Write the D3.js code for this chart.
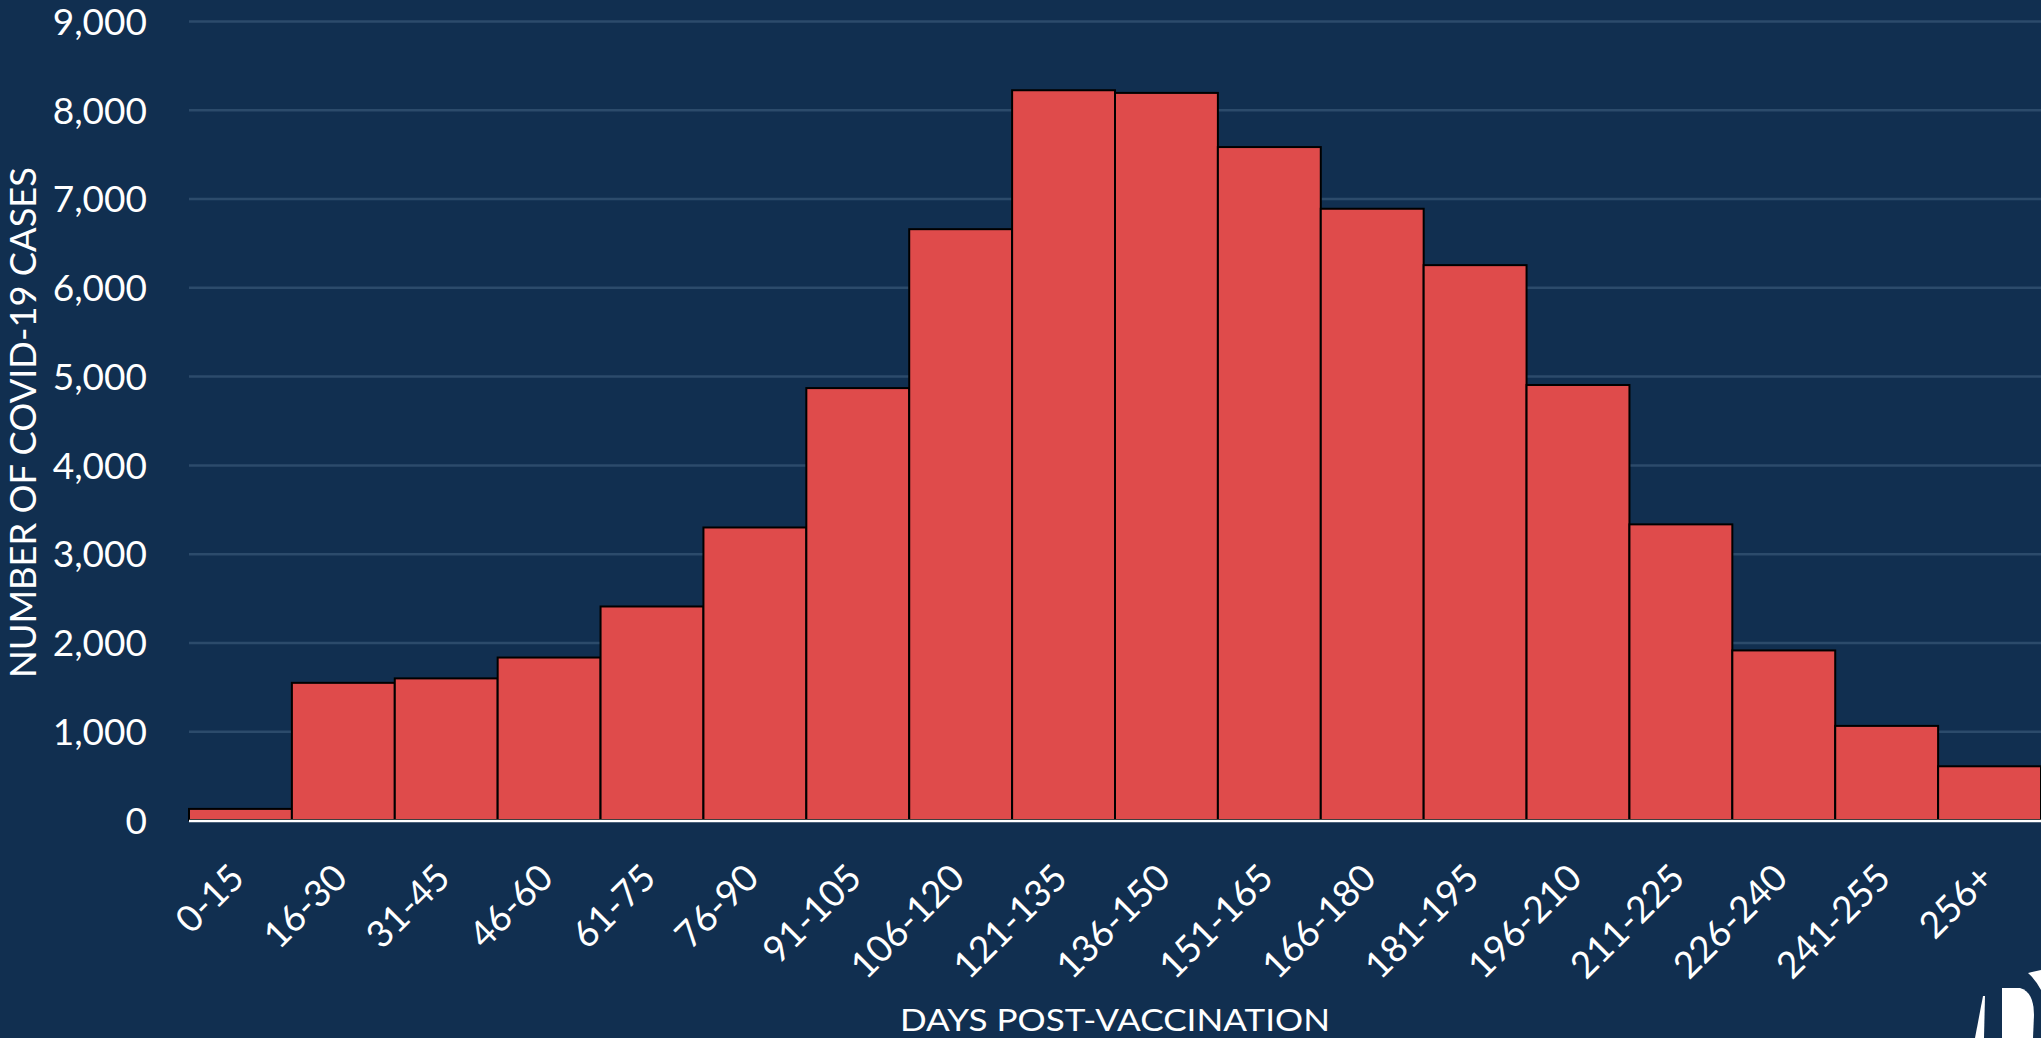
<!DOCTYPE html>
<html>
<head>
<meta charset="utf-8">
<script src="https://cdn.jsdelivr.net/npm/d3@7"></script>
<style>
  html, body { margin: 0; padding: 0; background: #112f50; overflow: hidden; }
  svg { display: block; font-family: Lato, "Open Sans", sans-serif; }
</style>
</head>
<body>
<svg id="chart"></svg>
<script>
// days since vaccination, grouped in 15 day buckets
const categories = ["0-15", "16-30", "31-45", "46-60", "61-75", "76-90", "91-105", "106-120",
  "121-135", "136-150", "151-165", "166-180", "181-195", "196-210", "211-225", "226-240",
  "241-255", "256+"];
const cases = [125, 1545, 1595, 1830, 2405, 3295, 4865, 6655, 8220, 8190, 7580, 6885, 6250,
  4900, 3330, 1910, 1060, 605];
const yTicks = [0, 1000, 2000, 3000, 4000, 5000, 6000, 7000, 8000, 9000];

const width = 2041, height = 1038;
const margin = {top: 21, right: 0, bottom: 218, left: 189};

var svg = d3.select("#chart")
    .attr("width", width)
    .attr("height", height);

svg.append("rect")
    .attr("width", width)
    .attr("height", height)
    .attr("fill", "#112f50");

let x = d3.scaleBand()
    .domain(categories)
    .range([margin.left, width - margin.right])
    .paddingInner(0)
    .paddingOuter(0);

let y = d3.scaleLinear()
    .domain([0, 9000])
    .range([height - margin.bottom, margin.top]);

// horizontal grid
let yAxis = svg.append("g")
    .attr("class", "y-axis")
    .attr("transform", `translate(${margin.left},0)`)
    .call(d3.axisLeft(y)
        .tickValues(yTicks)
        .tickSize(-(width - margin.left - margin.right))
        .tickPadding(42)
        .tickFormat(d3.format(",")));

yAxis.attr("font-family", null).attr("font-size", null);
yAxis.select(".domain").remove();
yAxis.selectAll(".tick line")
    .attr("stroke", "#2c4b6b")
    .attr("stroke-width", 2.5)
    .attr("stroke-opacity", (d) => d === 0 ? 0 : 1);
yAxis.selectAll(".tick text")
    .attr("fill", "#ffffff")
    .attr("font-size", 37)
    .attr("dy", "0.36em");

// bars
svg.append("g")
    .attr("id", "bars")
    .selectAll("rect")
    .data(cases)
    .enter()
    .append("rect")
    .attr("x", (d, i) => x(categories[i]))
    .attr("y", (d) => y(d))
    .attr("width", x.bandwidth())
    .attr("height", (d) => y(0) - y(d))
    .attr("fill", "#df4b4b")
    .attr("stroke", "#000000")
    .attr("stroke-width", 2);

// white baseline
svg.append("line")
    .attr("x1", margin.left)
    .attr("x2", width - margin.right)
    .attr("y1", y(0) + 1)
    .attr("y2", y(0) + 1)
    .attr("stroke", "#ffffff")
    .attr("stroke-width", 2.5);

// x labels, rotated
let xAxis = svg.append("g")
    .attr("class", "x-axis")
    .attr("transform", `translate(0,${y(0)})`)
    .call(d3.axisBottom(x).tickSize(0).tickPadding(0));

xAxis.attr("font-family", null).attr("font-size", null);
xAxis.select(".domain").remove();
xAxis.selectAll(".tick text")
    .attr("fill", "#ffffff")
    .attr("font-size", 37)
    .attr("text-anchor", "end")
    .attr("dy", 0)
    .attr("transform", "translate(6,60) rotate(-45)");

// axis titles
svg.append("text")
    .attr("transform", `translate(36,${(167 + 678) / 2}) rotate(-90)`)
    .attr("text-anchor", "middle")
    .attr("fill", "#ffffff")
    .attr("font-size", 36)
    .attr("textLength", 511)
    .attr("lengthAdjust", "spacingAndGlyphs")
    .text("NUMBER OF COVID-19 CASES");

svg.append("text")
    .attr("x", (margin.left + width - margin.right) / 2)
    .attr("y", 1031)
    .attr("text-anchor", "middle")
    .attr("fill", "#ffffff")
    .attr("font-size", 31)
    .attr("textLength", 430)
    .attr("lengthAdjust", "spacingAndGlyphs")
    .text("DAYS POST-VACCINATION");

// cropped logo in the corner
let logo = svg.append("g").attr("fill", "#ffffff");
logo.append("path")
    .attr("d", "M1983,996 L1985,996 L1984,1038 L1975,1038 Z");
logo.append("path")
    .attr("d", "M2002,988 L2020,988 Q2034,992 2034,1015 L2033,1038 L2002,1038 Z");
logo.append("path")
    .attr("d", "M2028,973 L2041,970 L2041,990 Q2036,980 2028,973 Z");
</script>
</body>
</html>
